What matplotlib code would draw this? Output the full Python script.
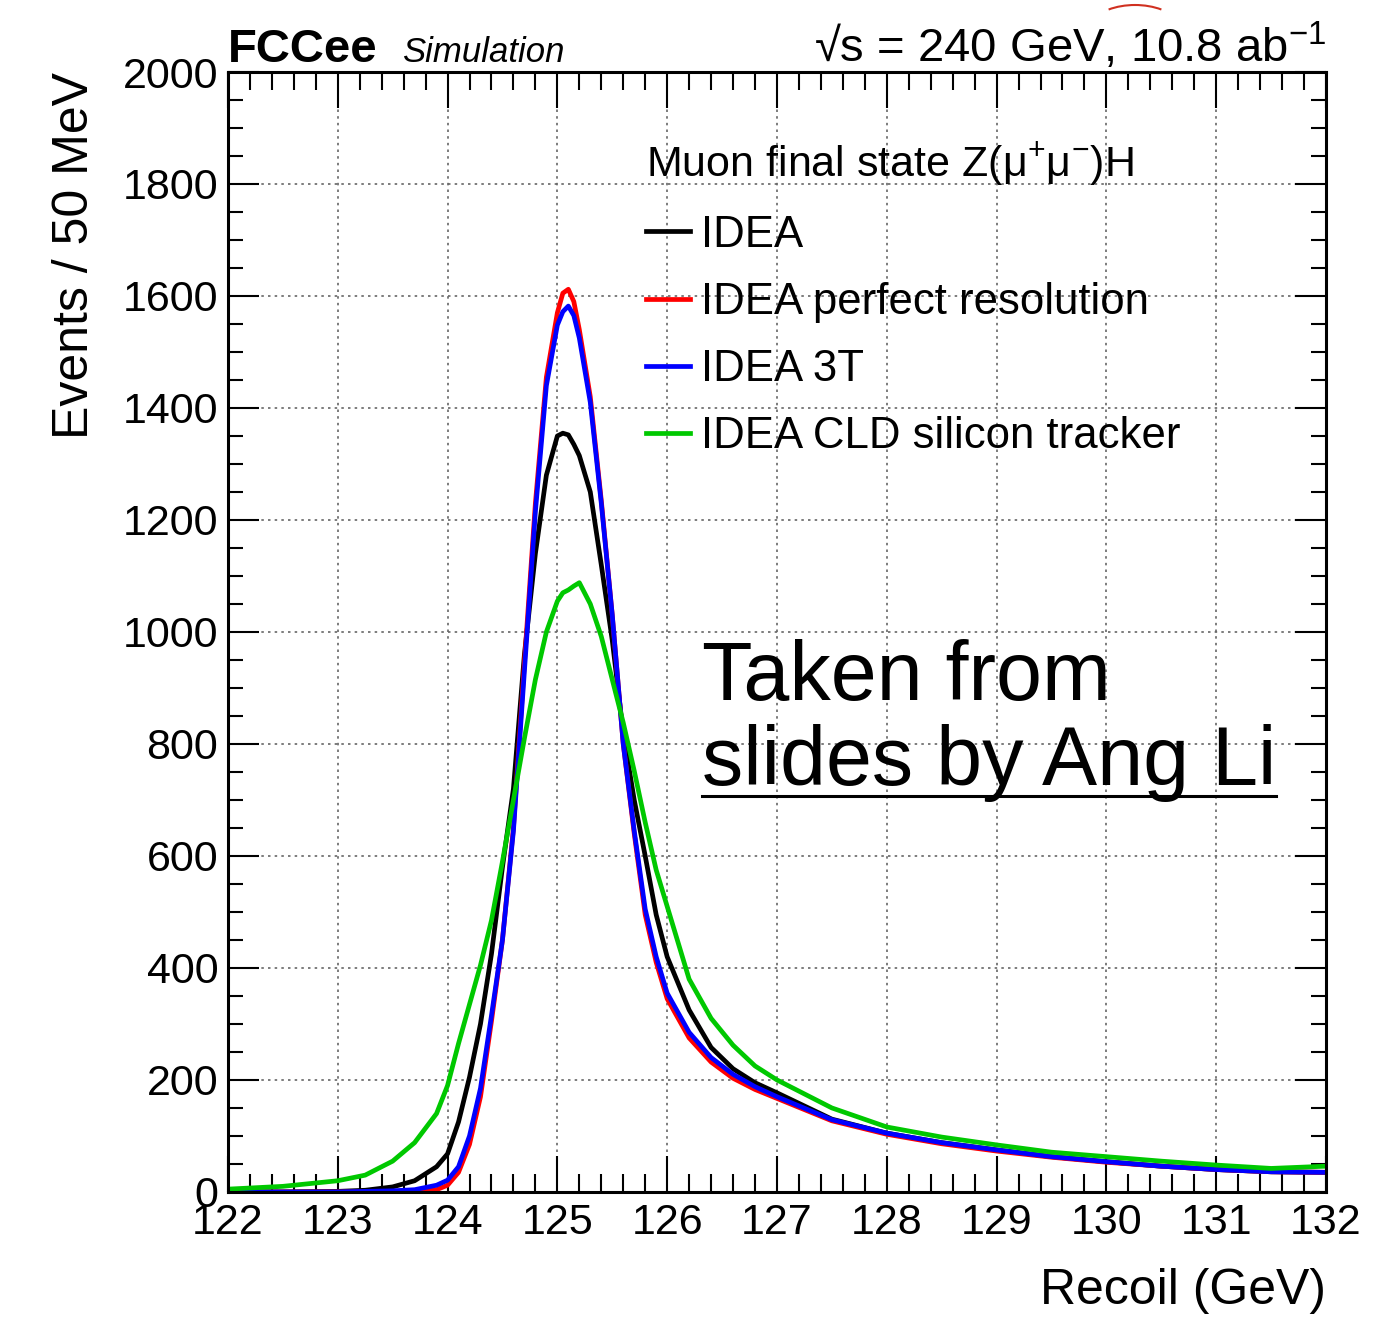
import matplotlib
matplotlib.use('Agg')
import matplotlib.pyplot as plt
from matplotlib.ticker import MultipleLocator
from matplotlib.lines import Line2D
from matplotlib.patches import Arc

plt.rcParams['font.family'] = ['Liberation Sans', 'DejaVu Sans']
plt.rcParams['mathtext.fontset'] = 'custom'
plt.rcParams['mathtext.rm'] = 'Liberation Sans'
plt.rcParams['mathtext.it'] = 'Liberation Sans:italic'
plt.rcParams['mathtext.default'] = 'regular'

# recoil mass (GeV) and events / 50 MeV for each detector option
recoil = [122.0, 122.5, 123.0, 123.25, 123.5, 123.7, 123.9, 124.0, 124.1, 124.2,
          124.3, 124.4, 124.5, 124.6, 124.7, 124.8, 124.9, 125.0, 125.05, 125.1,
          125.15, 125.2, 125.3, 125.4, 125.5, 125.6, 125.7, 125.8, 125.9, 126.0,
          126.2, 126.4, 126.6, 126.8, 127.0, 127.5, 128.0, 128.5, 129.0, 129.5,
          130.0, 130.5, 131.0, 131.5, 132.0]

idea = [0, 0, 1, 3, 9, 20, 45, 68, 125, 205,
        300, 425, 580, 720, 960, 1140, 1280, 1350, 1355, 1352,
        1335, 1315, 1250, 1120, 985, 820, 700, 600, 495, 420,
        325, 258, 220, 195, 177, 130, 105, 88, 75, 63,
        54, 46, 40, 36, 35]

idea_perfect = [0, 0, 0, 0, 1, 2, 4, 12, 35, 85,
                170, 305, 450, 650, 945, 1230, 1455, 1570, 1605, 1612,
                1590, 1540, 1420, 1235, 1030, 800, 640, 495, 410, 345,
                275, 232, 203, 183, 167, 127, 103, 86, 73, 62,
                53, 46, 40, 36, 35]

idea_3t = [0, 0, 0, 1, 2, 4, 12, 21, 45, 100,
           185, 315, 450, 645, 930, 1215, 1440, 1548, 1572, 1582,
           1565, 1525, 1410, 1230, 1030, 800, 645, 505, 420, 355,
           285, 240, 210, 188, 170, 129, 105, 88, 75, 63,
           54, 46, 40, 36, 35]

idea_cld = [5, 10, 20, 30, 55, 88, 140, 190, 265, 335,
            405, 485, 590, 700, 810, 915, 1000, 1055, 1070, 1075,
            1082, 1088, 1050, 992, 915, 838, 752, 660, 575, 510,
            380, 310, 262, 225, 200, 150, 116, 98, 84, 71,
            63, 55, 48, 42, 46]

series = [
    (idea, 'black', 'IDEA'),
    (idea_perfect, '#ff0000', 'IDEA perfect resolution'),
    (idea_3t, '#0000ff', 'IDEA 3T'),
    (idea_cld, '#00c800', 'IDEA CLD silicon tracker'),
]

fig = plt.figure(figsize=(13.73, 13.26), dpi=100)
ax = fig.add_axes([0.166, 0.1011, 0.7998, 0.8446])

for values, color, label in series:
    ax.plot(recoil, values, color=color, lw=3.4, label=label)

ax.set_xlim(122, 132)
ax.set_ylim(0, 2000)
ax.xaxis.set_major_locator(MultipleLocator(1))
ax.xaxis.set_minor_locator(MultipleLocator(0.2))
ax.yaxis.set_major_locator(MultipleLocator(200))
ax.yaxis.set_minor_locator(MultipleLocator(50))
ax.grid(True, which='major', color='#666666', linestyle=(0, (1.5, 2.5)), lw=1.2)

ax.tick_params(which='both', direction='in', top=True, right=True, width=1.5,
               labelsize=31, colors='black')
ax.tick_params(axis='x', which='major', length=26, pad=8)
ax.tick_params(axis='x', which='minor', length=13)
ax.tick_params(axis='y', which='major', length=22, pad=7)
ax.tick_params(axis='y', which='minor', length=11)
for sp in ax.spines.values():
    sp.set_linewidth(2.2)

ax.set_xlabel('Recoil (GeV)', fontsize=36, loc='right')
ax.set_ylabel('Events / 50 MeV', fontsize=36, loc='top')
ax.xaxis.set_label_coords(1.0, -0.068)
ax.yaxis.set_label_coords(-0.118, 1.0)

leg = ax.legend(loc='upper left', bbox_to_anchor=(0.381, 0.9386), frameon=False,
                fontsize=31.5, title='Muon final state Z(μ$^{+}$μ$^{-}$)H',
                title_fontsize=31, alignment='left', borderpad=0,
                handlelength=1.0, handletextpad=0.25, labelspacing=0.6,
                borderaxespad=0)
for h in leg.get_lines():
    h.set_linewidth(3.4)

# header above the frame
fig.text(0.166, 1 - 62 / 1326, 'FCCee', fontsize=34, fontweight='bold', va='baseline')
fig.text(402 / 1373, 1 - 62 / 1326, 'Simulation', fontsize=25, style='italic', va='baseline')
fig.text(0.9658, 1 - 62 / 1326, '√s = 240 GeV, 10.8 ab$^{-1}$', fontsize=34,
         ha='right', va='baseline')
fig.add_artist(Arc((1135 / 1373, 1 - 35 / 1326), 100 / 1373, 60 / 1326,
                   theta1=45, theta2=135, color='#d03020', lw=1.5,
                   transform=fig.transFigure))

# credit note
ax.text(0.4317, 0.4393, 'Taken from', fontsize=59.5, transform=ax.transAxes,
        va='baseline')
credit = ax.text(0.4317, 0.3634, 'slides by Ang Li', fontsize=59.5,
                 transform=ax.transAxes, va='baseline')
fig.canvas.draw()
bb = credit.get_window_extent(fig.canvas.get_renderer())
W, H = fig.bbox.width, fig.bbox.height
y_ul = (bb.y0 + 6) / H
fig.add_artist(Line2D([bb.x0 / W, bb.x1 / W], [y_ul, y_ul], color='black', lw=2.2,
                      transform=fig.transFigure))

fig.savefig('out.png', dpi=100, facecolor='white')
